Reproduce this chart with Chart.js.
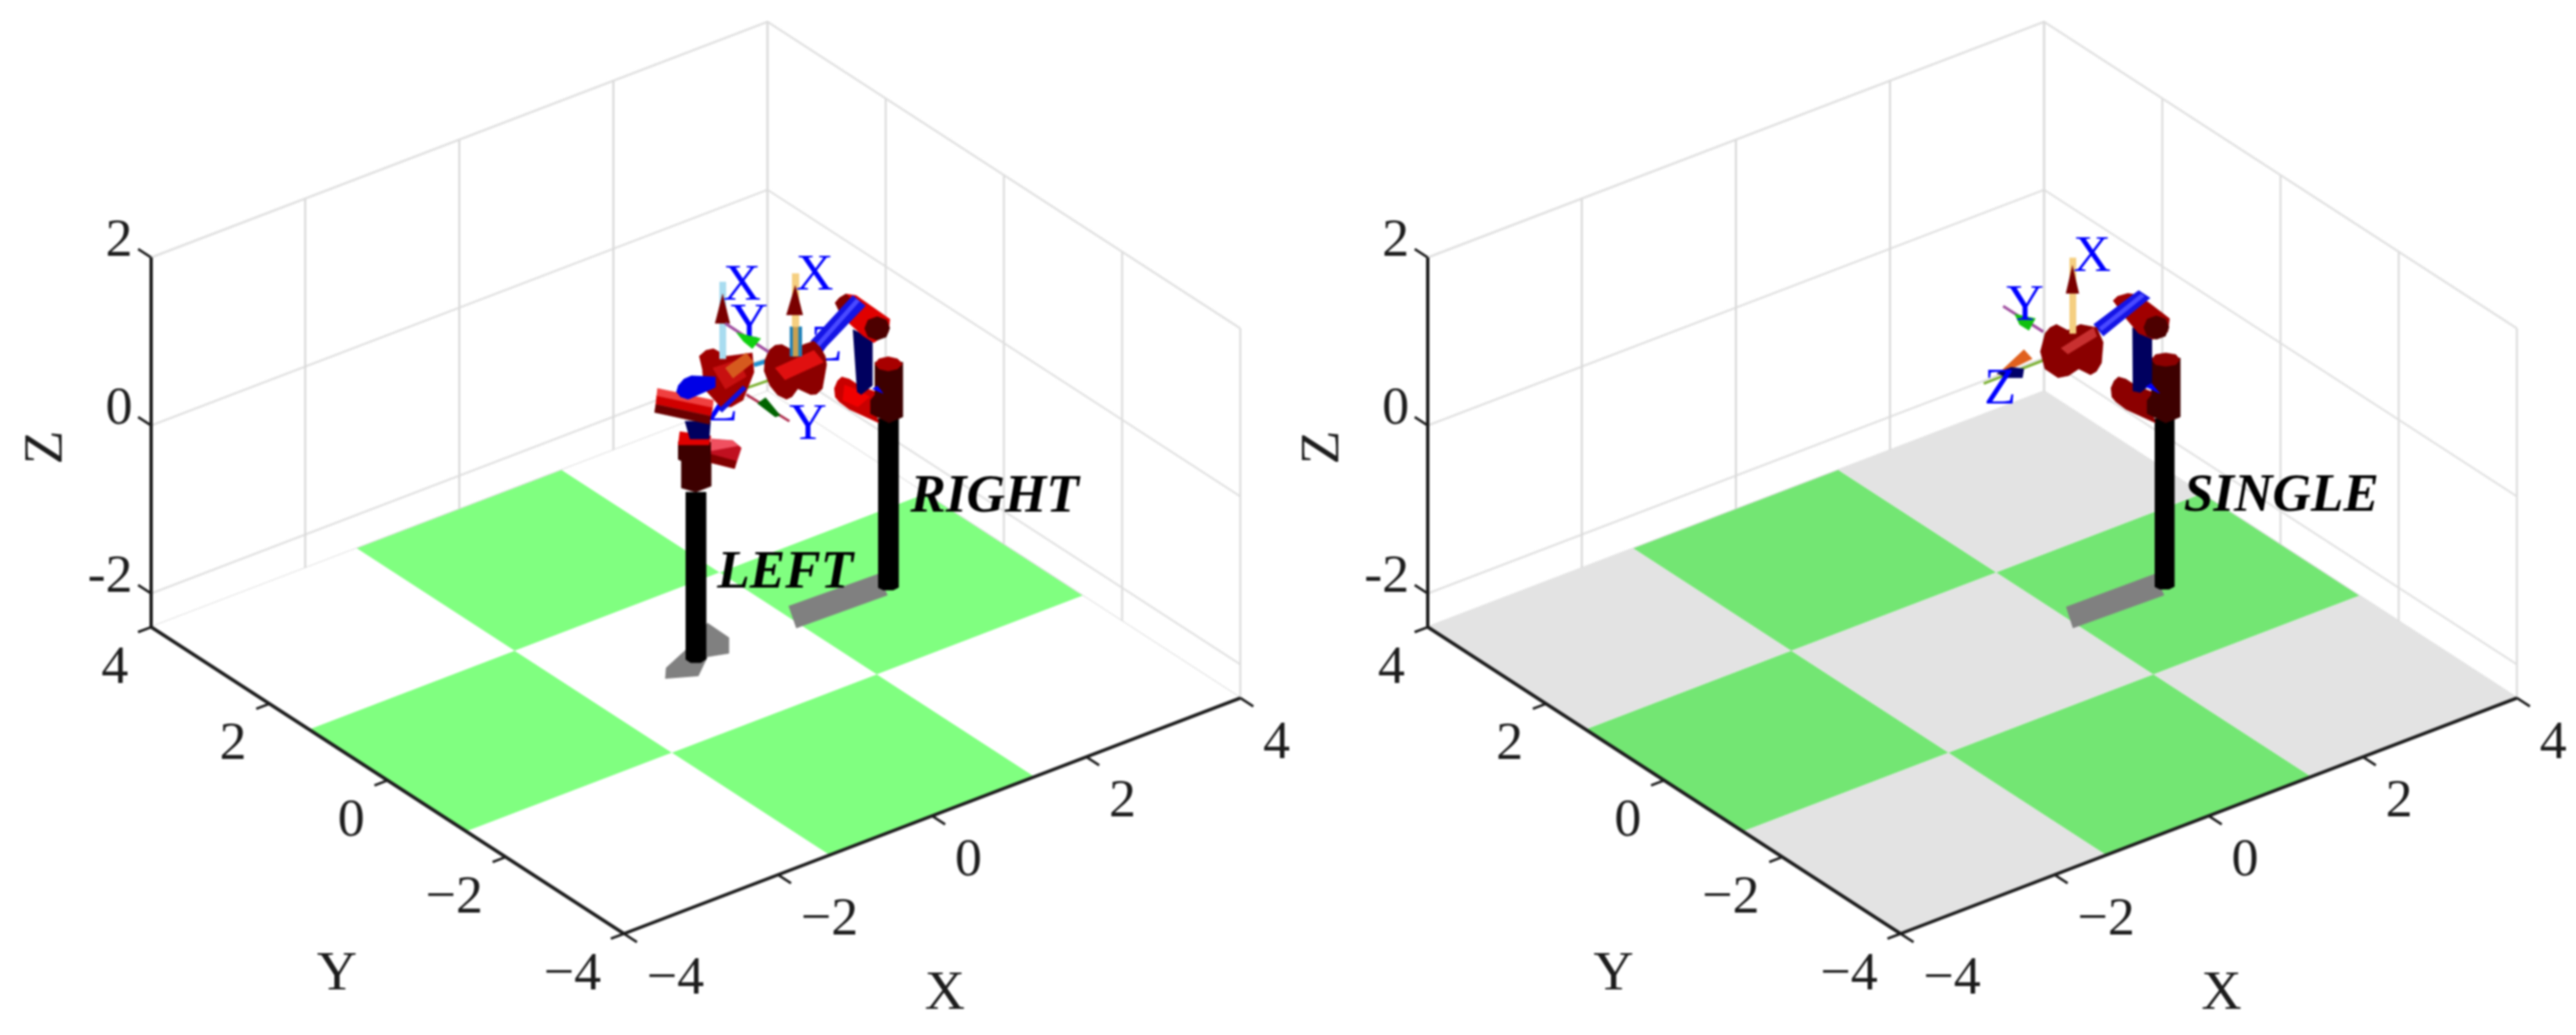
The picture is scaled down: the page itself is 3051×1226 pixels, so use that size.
<!DOCTYPE html>
<html>
<head>
<meta charset="utf-8">
<title>Robot workspace</title>
<script src="https://cdn.jsdelivr.net/npm/chart.js@4/dist/chart.umd.min.js"></script>
<style>
  html, body { margin: 0; padding: 0; background: #fff; overflow: hidden; }
  canvas { position: absolute; top: 0; filter: blur(0.8px); }
  #left { left: 0; }
  #right { left: 1512px; }
</style>
</head>
<body>
<canvas id="left" width="1545" height="1226"></canvas>
<canvas id="right" width="1539" height="1226"></canvas>
<script>
//------ Axis data -------//
const xTicks = [-4, -2, 0, 2, 4];
const yTicks = [-4, -2, 0, 2, 4];
const zTicks = [-2, 0, 2];
const xTickLabels = ["\u22124", "\u22122", "0", "2", "4"];
const yTickLabels = ["\u22124", "\u22122", "0", "2", "4"];
const zTickLabels = ["-2", "0", "2"];
const zRange = [-2.4, 2];

//------ Floor tiles, 1 = green -------//
const floorEdges = [-4, -1.33, 1.33, 4];
const floorCells = [
  [0, 1, 0],
  [1, 0, 1],
  [0, 1, 0],
];

//------ Robot outlines in view units -----------------------------//
const rightShadow = [[110, -172], [216, -134], [227, -159], [119, -198]];
const rightPole = [[216, 50], [240, 50], [240, -150], [234, -153], [222, -153], [216, -150]];
const rightBase = [[212, 117], [245, 117], [245, 52], [229, 45], [207, 56], [207, 72], [212, 78]];
const rightBaseTop = [[212, 115], [217, 121], [228, 123.5], [239, 121], [245, 115], [239, 109], [228, 106.5], [217, 109]];
const rightElbow = [[164, 85.6], [168, 95], [173, 99.6], [182, 97], [194, 89], [222, 78.6], [211, 64.5], [217, 45], [182, 61], [170, 70], [165, 76]];
const rightElbowLight = [[176, 90], [190, 85], [206, 76], [192, 64], [174, 72]];
const rightLower = [[186, 155.7], [209, 145], [209, 89], [196, 78.6], [191, 82]];
const rightLowerTip = [[209, 85.6], [222, 80], [215, 89]];
const rightJoint = [[165, 187], [170, 193], [178, 197.8], [190, 196], [230, 168], [228, 152], [211, 140], [197.5, 148.7], [182, 162.7]];
const rightJointBack = [[165, 187], [170, 193], [178, 197.8], [186, 190], [172, 172]];
const rightJointEnd = [[230, 157], [226, 167], [215, 171], [204, 167], [200, 157], [204, 147], [215, 143], [226, 147]];
const rightUpper = [[136, 141.7], [186, 196], [201, 183.8], [150, 130.5]];
const rightUpperStripe = [[143, 139], [190, 192], [194, 189], [146, 135]];
const rightWrist = [[86.5, 131], [94, 137], [102, 138], [115, 131], [128, 138], [140, 142], [148, 134], [153.5, 124], [155, 114], [150, 85.6], [143, 79], [136, 78.6], [121, 85.6], [114, 76], [107.5, 73], [97, 78], [88, 89], [81, 106.6], [82, 120]];
const rightWristLight = [[94, 110], [140, 131], [151.5, 117], [105.6, 96]];
const rightToolBody = [[111.4, 159], [125.5, 159], [125.5, 124], [111.4, 124]];
const rightToolCore = [[115, 159], [121, 159], [121, 124], [115, 124]];
const rightXShaft = [[114, 222], [122, 222], [122, 159], [114, 159]];
const rightXHead = [[118, 208], [107.5, 173], [127, 173]];
const rightYLine = [[60, 78.6], [111, 47]];
const rightYHead = [[73, 68], [82.7, 75], [100, 54], [94, 52]];
const rightZLine = [[58, 85.6], [94, 98]];
const rightZStub = [[69, 113.6], [86.5, 119]];

const leftShadow = [[-36, -258], [-35, -245], [-12, -224], [14, -192], [39, -209], [39, -228], [14, -232], [3, -255]];
const leftPole = [[-12, -37], [12, -37], [12, -235], [6, -239], [-6, -239], [-12, -235]];
const leftBase = [[-21, 22.5], [18, 22.5], [18, -30], [0, -37], [-17, -32], [-17, 0], [-21, 2]];
const leftBaseTop = [[-19, 34.7], [18, 29.5], [16, 19], [-21, 19]];
const leftElbow = [[18, 26], [44, 24], [54, 15.4], [46, -9], [18, -2]];
const leftElbowLight = [[18, 26], [44, 24], [50, 18], [18, 12]];
const leftElbowDark = [[18, 8], [48, -0.3], [46, -9], [18, -2]];
const leftLower = [[-13, 47], [17.6, 47], [16, 26], [-7, 26]];
const leftJointTop = [[-45.5, 86], [21, 72], [20, 63], [-46.5, 77]];
const leftJointMid = [[-46.5, 77], [20, 63], [18, 53], [-47.5, 67]];
const leftJointLow = [[-47.5, 67], [18, 53], [16, 43.5], [-49, 57.5]];
const leftUpper = [[-21, 89], [-14, 97], [-5, 101], [23, 99.6], [23, 87], [-9, 73], [-18, 76], [-23, 82]];
const leftThin = [[27, 61], [56, 89], [60, 85.6], [31, 57.5]];
const leftWrist = [[4, 124], [12, 131], [21, 133], [37, 124], [67, 128], [69, 105], [56, 72], [42, 64], [29, 64.5], [10, 85.6], [8, 107]];
const leftWristLight = [[20, 110], [50, 120], [60, 100], [35, 85]];
const leftOrange = [[35, 110], [60, 128], [68.5, 117], [44, 98]];
const leftXShaft = [[28, 212], [35.6, 212], [35.6, 121], [28, 121]];
const leftXHead = [[32, 198], [23, 163], [40.6, 163]];
const leftYLine = [[35, 163], [86.5, 129]];
const leftYHead = [[48, 152], [77, 145], [67, 133], [56, 142]];

const singleShadow = [[111, -173], [216, -134], [227, -159], [119, -198]];
const singlePole = [[216, 50], [239, 50], [239, -149], [233, -152], [222, -152], [216, -149]];
const singleBase = [[212, 122], [246, 122], [246, 52], [229, 45], [207, 56], [207, 72], [212, 78]];
const singleBaseTop = [[212, 120], [217, 126], [229, 128], [241, 126], [246, 120], [241, 114], [229, 112], [217, 114]];
const singleElbow = [[164, 86], [168, 95], [173, 99.6], [182, 97], [194, 89], [222, 78.6], [211, 64.5], [217, 45], [182, 61], [170, 70], [165, 76]];
const singleLower = [[189.5, 158], [212.5, 151], [212.5, 91.6], [199, 81], [190, 83]];
const singleLowerTip = [[205, 88], [222, 80], [212, 92]];
const singleJoint = [[166.6, 189.8], [172, 195], [184, 198.5], [197, 196.8], [233.6, 168.7], [231.6, 153], [214.4, 144], [197, 151], [182, 168.7]];
const singleJointEnd = [[233, 158], [229, 168], [218, 172], [207, 168], [203, 158], [207, 148], [218, 144], [229, 148]];
const singleUpper = [[143.6, 161.7], [197, 202], [210.6, 193], [155, 147.7]];
const singleUpperStripe = [[150, 158], [200, 198], [204, 195], [153, 154]];
const singleWrist = [[86, 151], [92, 158], [99.6, 161.7], [113, 154.7], [128, 161.7], [147.4, 158], [155, 140.6], [153, 116], [147, 106], [140, 102], [126, 109], [114, 101], [101.5, 98.6], [86, 109], [80.5, 130]];
const singleWristLight = [[105, 133.6], [143.6, 158], [147.4, 147.6], [113, 126.6]];
const singleXShaft = [[115, 240.6], [122.6, 240.6], [122.6, 151], [115, 151]];
const singleXHead = [[118.7, 231.8], [111, 198.5], [126.4, 198.5]];
const singleYLine = [[36.5, 183.4], [84, 153]];
const singleYHead = [[50, 174], [74.7, 168.7], [67, 154.7], [55.6, 161.7]];
const singleZLine = [[13.5, 91.6], [94, 123]];
const singleZHead = [[61, 132], [71, 121], [46, 109], [29, 102]];
const singleZBlue = [[29, 104], [46, 111], [61, 109], [59.4, 98.6], [40, 98.6]];

//------ Texts on the robots, in view units -------//
const dualFrameLabels = [["X", 55, 207], ["X", 141, 219], ["Y", 133, 42]];
const dualHiddenLabels = [["Y", 63.5, 161.5], ["Z", 31, 64], ["Z", 155, 135]];
const dualNames = [["RIGHT", 354, -44], ["LEFT", 106, -134]];
const singleFrameLabels = [["X", 142, 241], ["Y", 62.5, 183], ["Z", 33, 84]];
const singleNames = [["SINGLE", 366, -43]];

//------ Projection of the 3D box onto the chart scales -------//
function project(x, y, z) {
  return { x: 91.25 * x - 70 * y, y: 34.9 * x + 45.4 * y + 99.5 * z };
}

function toPoints(pairs) {
  return pairs.map(([x, y]) => ({ x, y }));
}

function lineSet(points, color, width) {
  return { data: points, showLine: true, fill: false, borderColor: color, borderWidth: width, pointRadius: 0 };
}

function shapeSet(pairs, color) {
  return {
    data: toPoints(pairs), showLine: true, fill: "shape", backgroundColor: color,
    borderColor: color, borderWidth: 0.5, pointRadius: 0,
  };
}

function boxDatasets() {
  const sets = [];
  const low = zRange[0];
  const high = zRange[1];
  // horizontal grid on the two back walls
  zTicks.concat([low, high]).forEach((z) => {
    sets.push(lineSet([project(-4, 4, z), project(4, 4, z), project(4, -4, z)], "#e2e2e2", 2.5));
  });
  // vertical grid
  xTicks.slice(1).forEach((x) => {
    sets.push(lineSet([project(x, 4, low), project(x, 4, high)], x === 4 ? "#cfcfcf" : "#dadada", 2.5));
  });
  yTicks.forEach((y) => {
    sets.push(lineSet([project(4, y, low), project(4, y, high)], "#dddddd", 2.5));
  });
  return sets;
}

function floorDatasets(green, other) {
  const sets = [];
  floorCells.forEach((row, i) => {
    row.forEach((cell, j) => {
      const x0 = floorEdges[j], x1 = floorEdges[j + 1];
      const y0 = floorEdges[i], y1 = floorEdges[i + 1];
      const corners = [project(x0, y0, zRange[0]), project(x1, y0, zRange[0]), project(x1, y1, zRange[0]), project(x0, y1, zRange[0])];
      sets.push({
        data: corners, showLine: true, fill: "shape", backgroundColor: cell ? green : other,
        borderWidth: 0, pointRadius: 0,
      });
    });
  });
  return sets;
}

function axisDatasets() {
  const sets = [];
  const ink = "#1c1c1c";
  const low = zRange[0];
  sets.push(lineSet([project(-4, 4, low), project(-4, -4, low)], ink, 4));
  sets.push(lineSet([project(-4, -4, low), project(4, -4, low)], ink, 4));
  sets.push(lineSet([project(-4, 4, low), project(-4, 4, zRange[1])], ink, 4));
  xTicks.forEach((x) => sets.push(lineSet([project(x, -4, low), project(x, -4.22, low)], ink, 3)));
  yTicks.forEach((y) => sets.push(lineSet([project(-4, y, low), project(-4.17, y, low)], ink, 3)));
  zTicks.forEach((z) => sets.push(lineSet([project(-4, 4, z), project(-4, 4.22, z)], ink, 3)));
  return sets;
}

function dualRobotDatasets() {
  return [
    shapeSet(rightShadow, "#808080"), shapeSet(leftShadow, "#808080"),
    shapeSet(rightPole, "#000000"),
    shapeSet(rightElbow, "#c80000"), shapeSet(rightElbowLight, "#f00000"),
    shapeSet(rightBase, "#3d0000"), shapeSet(rightBaseTop, "#a80000"),
    shapeSet(rightLower, "#00005f"), shapeSet(rightLowerTip, "#0000ff"),
    shapeSet(rightJoint, "#e00000"), shapeSet(rightJointBack, "#800000"), shapeSet(rightJointEnd, "#4d0000"),
    shapeSet(rightUpper, "#1414e6"), shapeSet(rightUpperStripe, "#4a4aff"),
    lineSet(toPoints(rightZLine), "#7ab030", 3), lineSet(toPoints(rightZStub), "#2090d0", 5),
    shapeSet(rightWrist, "#8c0000"), shapeSet(rightWristLight, "#e01010"),
    shapeSet(rightToolBody, "#1e80b8"), shapeSet(rightToolCore, "#c8a050"),
    shapeSet(rightXShaft, "#f5cf80"), shapeSet(rightXHead, "#7a0000"),
    lineSet(toPoints(rightYLine), "#b03050", 3), shapeSet(rightYHead, "#006400"),
    shapeSet(leftPole, "#000000"), shapeSet(leftBase, "#3d0000"), shapeSet(leftBaseTop, "#e00000"),
    shapeSet(leftElbow, "#c01020"), shapeSet(leftElbowLight, "#f05060"), shapeSet(leftElbowDark, "#800000"),
    shapeSet(leftLower, "#00005f"),
    shapeSet(leftWrist, "#a00000"), shapeSet(leftWristLight, "#c81010"), shapeSet(leftOrange, "#d65a1e"),
    shapeSet(leftJointTop, "#f04040"), shapeSet(leftJointMid, "#d00000"), shapeSet(leftJointLow, "#6a0000"),
    shapeSet(leftUpper, "#0000e6"), shapeSet(leftThin, "#1010e0"),
    shapeSet(leftXShaft, "#a8dcf0"), shapeSet(leftXHead, "#7a0000"),
    lineSet(toPoints(leftYLine), "#a050a0", 3.5), shapeSet(leftYHead, "#10d010"),
  ];
}

function singleRobotDatasets() {
  return [
    shapeSet(singleShadow, "#808080"),
    shapeSet(singlePole, "#000000"),
    shapeSet(singleElbow, "#8c0000"),
    shapeSet(singleBase, "#3d0000"), shapeSet(singleBaseTop, "#8c0000"),
    shapeSet(singleLower, "#00005f"), shapeSet(singleLowerTip, "#0000ff"),
    shapeSet(singleJoint, "#a00000"), shapeSet(singleJointEnd, "#4d0000"),
    shapeSet(singleUpper, "#1414e6"), shapeSet(singleUpperStripe, "#4a4aff"),
    lineSet(toPoints(singleZLine), "#7ab030", 3), shapeSet(singleZHead, "#e0601e"), shapeSet(singleZBlue, "#00006a"),
    shapeSet(singleWrist, "#8a0000"), shapeSet(singleWristLight, "#c83030"),
    shapeSet(singleXShaft, "#f5cf80"), shapeSet(singleXHead, "#7a0000"),
    lineSet(toPoints(singleYLine), "#a050a0", 3.5), shapeSet(singleYHead, "#10c010"),
  ];
}

//------ Text through the scales -------//
const tickFont = "64px 'Liberation Serif'";
const titleFont = "66px 'Liberation Serif'";
const frameFont = "62px 'Liberation Serif'";
const nameFont = "italic bold 63px 'Liberation Serif'";

function putText(chart, text, point, opts) {
  const ctx = chart.ctx;
  const px = chart.scales.x.getPixelForValue(point.x) + (opts.dx || 0);
  const py = chart.scales.y.getPixelForValue(point.y) + (opts.dy || 0);
  ctx.save();
  ctx.translate(px, py);
  if (opts.rotate) ctx.rotate(opts.rotate);
  ctx.font = opts.font;
  ctx.fillStyle = opts.color || "#1c1c1c";
  ctx.textAlign = opts.align || "center";
  ctx.textBaseline = "middle";
  ctx.fillText(text, 0, 0);
  ctx.restore();
}

function axisTexts(chart) {
  const low = zRange[0];
  xTicks.forEach((x, i) => {
    putText(chart, xTickLabels[i], project(x, -4, low), { font: tickFont, align: "left", dx: 27, dy: 54 });
  });
  yTicks.forEach((y, i) => {
    putText(chart, yTickLabels[i], project(-4, y, low), { font: tickFont, align: "right", dx: -27, dy: 49 });
  });
  zTicks.forEach((z, i) => {
    putText(chart, zTickLabels[i], project(-4, 4, z), { font: tickFont, align: "right", dx: -22, dy: -19 });
  });
  putText(chart, "X", project(0, -4, low), { font: titleFont, dx: 15, dy: 211 });
  putText(chart, "Y", project(-4, 0, low), { font: titleFont, dx: -60, dy: 230 });
  putText(chart, "Z", project(-4, 4, 0), { font: titleFont, dx: -123, dy: 26, rotate: -Math.PI / 2 });
}

function makePanel(id, xMax, datasets, hidden, labels, names) {
  const drawOrder = datasets.map((d, i) => Object.assign(d, { order: datasets.length - i }));
  new Chart(document.getElementById(id), {
    type: "scatter",
    data: { datasets: drawOrder },
    options: {
      responsive: false,
      animation: false,
      devicePixelRatio: 1,
      layout: { padding: 0 },
      plugins: { legend: { display: false }, tooltip: { enabled: false } },
      scales: {
        x: { type: "linear", display: false, min: -824, max: xMax },
        y: { type: "linear", display: false, min: -680, max: 546 },
      },
    },
    plugins: [{
      id: "panelText",
      afterDatasetDraw(chart, args) {
        // frame labels sit behind the robot links
        if (args.index !== hidden.after) return;
        hidden.items.forEach(([t, x, y]) => putText(chart, t, { x, y }, { font: frameFont, color: "#0000ff" }));
      },
      afterDatasetsDraw(chart) {
        axisTexts(chart);
        labels.forEach(([t, x, y]) => putText(chart, t, { x, y }, { font: frameFont, color: "#0000ff" }));
        names.forEach(([t, x, y]) => putText(chart, t, { x, y }, { font: nameFont, color: "#000000" }));
      },
    }],
  });
}

//------ Panels -------//
const leftSets = boxDatasets().concat(floorDatasets("#80ff80", "#ffffff"), axisDatasets());
const rightSets = boxDatasets().concat(floorDatasets("#73e673", "#e3e3e3"), axisDatasets());
makePanel("left", 721, leftSets.concat(dualRobotDatasets()),
  { after: leftSets.length - 1, items: dualHiddenLabels }, dualFrameLabels, dualNames);
makePanel("right", 715, rightSets.concat(singleRobotDatasets()),
  { after: -1, items: [] }, singleFrameLabels, singleNames);
</script>
</body>
</html>
